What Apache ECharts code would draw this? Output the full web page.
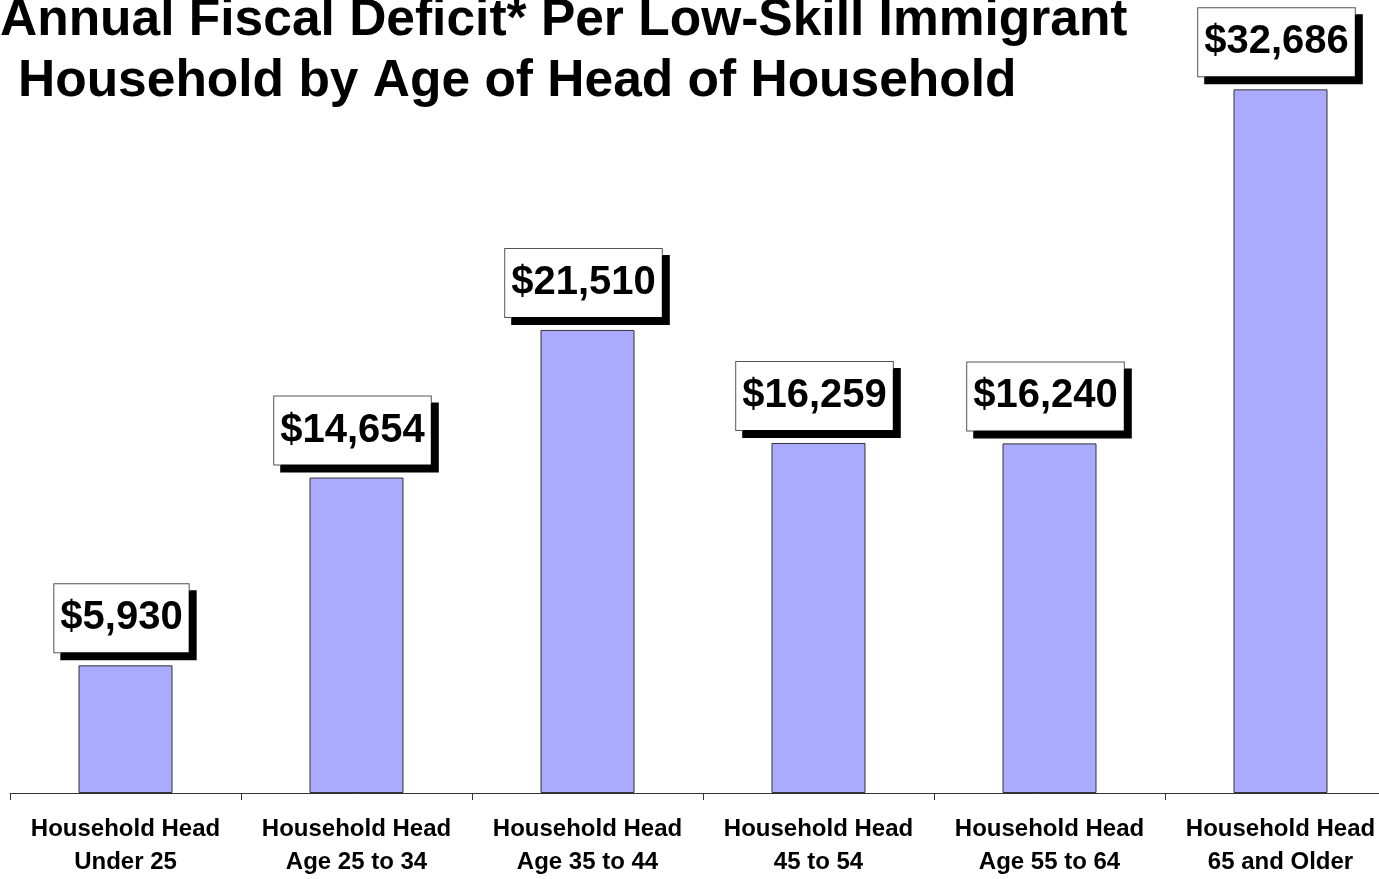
<!DOCTYPE html>
<html>
<head>
<meta charset="utf-8">
<script src="https://cdn.jsdelivr.net/npm/echarts@6/dist/echarts.min.js"></script>
<style>
html,body{margin:0;padding:0;background:#fff;}
#main{width:1379px;height:879px;}
</style>
</head>
<body>
<div id="main"></div>
<script>
var titleLine1 = 'Annual Fiscal Deficit* Per Low-Skill Immigrant';
var titleLine2 = 'Household by Age of Head of Household';
var categories = [
  'Household Head\nUnder 25',
  'Household Head\nAge 25 to 34',
  'Household Head\nAge 35 to 44',
  'Household Head\n45 to 54',
  'Household Head\nAge 55 to 64',
  'Household Head\n65 and Older'
];
var deficits = [5930, 14654, 21510, 16259, 16240, 32686];

var chart = echarts.init(document.getElementById('main'), null, {renderer: 'canvas'});
var font = 'Liberation Sans, Arial, sans-serif';
chart.setOption({
  animation: false,
  backgroundColor: '#ffffff',
  title: [
    {text: titleLine1, left: 0, top: -5, padding: 0,
     textStyle: {fontFamily: font, fontWeight: 'bold', fontSize: 51.5, color: '#000'}},
    {text: titleLine2, left: 18, top: 56, padding: 0,
     textStyle: {fontFamily: font, fontWeight: 'bold', fontSize: 51.5, color: '#000'}}
  ],
  grid: {left: 10, width: 1386, top: 18, bottom: 86, containLabel: false, outerBoundsMode: 'none'},
  xAxis: {
    type: 'category',
    data: categories,
    boundaryGap: true,
    axisLine: {lineStyle: {color: '#333', width: 1}},
    axisTick: {show: true, length: 7, lineStyle: {color: '#333'}},
    axisLabel: {
      interval: 0, margin: 20, color: '#000',
      fontFamily: font, fontWeight: 'bold', fontSize: 24, lineHeight: 33
    }
  },
  yAxis: {
    type: 'value', min: 0, max: 36000, show: false,
    splitLine: {show: false}
  },
  series: [{
    type: 'bar',
    data: deficits,
    barWidth: 94,
    itemStyle: {color: '#AAAAFF', borderColor: '#333', borderWidth: 1},
    label: {
      show: true,
      position: 'top',
      distance: 13,
      offset: [-4, 0],
      formatter: function (p) { return '$' + p.value.toLocaleString('en-US'); },
      fontFamily: font, fontWeight: 'bold', fontSize: 40, lineHeight: 40,
      color: '#000',
      backgroundColor: '#fff',
      borderColor: '#555', borderWidth: 1,
      padding: [14, 6, 14, 6],
      shadowColor: '#000', shadowBlur: 0, shadowOffsetX: 7, shadowOffsetY: 7
    }
  }]
});
</script>
</body>
</html>
